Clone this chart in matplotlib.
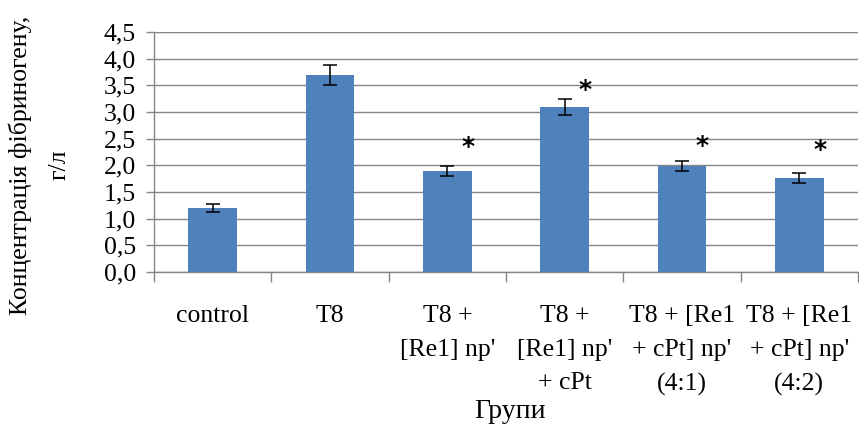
import matplotlib
matplotlib.use("Agg")
import matplotlib.pyplot as plt
import numpy as np
from matplotlib.ticker import FuncFormatter, FixedLocator

plt.rcParams['font.family'] = ['Liberation Serif', 'DejaVu Serif']

categories = ["control", "T8", "T8 +\n[Re1] np'", "T8 +\n[Re1] np'\n+ cPt",
              "T8 + [Re1\n+ cPt] np'\n(4:1)", "T8 + [Re1\n+ cPt] np'\n(4:2)"]
values = [1.2, 3.7, 1.9, 3.1, 1.98, 1.76]
errors = [0.075, 0.19, 0.095, 0.15, 0.095, 0.095]
star_y = [None, None, 2.34, 3.41, 2.36, 2.29]

fig = plt.figure(figsize=(8.59, 4.25), dpi=100)
ax = fig.add_axes([154/859, 1-272/425, (858-154)/859, (272-32)/425])

x = np.arange(len(categories))
ax.bar(x, values, width=0.415, color='#4F81BD', zorder=3,
       yerr=errors, capsize=5, error_kw=dict(ecolor='black', elinewidth=1.1, capthick=1.1, zorder=4))

for xi, sy in zip(x, star_y):
    if sy is not None:
        ax.text(xi + 0.175, sy, '*', ha='center', va='center', fontsize=18,
                fontweight='bold', family=['DejaVu Sans'], zorder=5)

ax.set_xlim(-0.5, len(categories) - 0.5)
ax.set_ylim(0, 4.5)
ax.set_yticks(np.arange(0, 4.51, 0.5))
ax.yaxis.set_major_formatter(FuncFormatter(lambda v, p: f"{v:.1f}".replace('.', ',')))
ax.tick_params(axis='y', labelsize=18.5, length=6, color='#868686', width=1, pad=7)

ax.set_xticks(x)
ax.set_xticklabels(categories, fontsize=18.5)
ax.tick_params(axis='x', length=0, pad=24)
ax.xaxis.set_minor_locator(FixedLocator(np.arange(-0.5, len(categories) - 0.4, 1.0)))
ax.tick_params(axis='x', which='minor', length=7, color='#868686', width=1)

ax.grid(axis='y', color='#868686', linewidth=1, zorder=0)
ax.axhline(4.5, color='black', linewidth=1.5, zorder=1)
for s in ['top', 'right']:
    ax.spines[s].set_visible(False)
for s in ['left', 'bottom']:
    ax.spines[s].set_color('#868686')
    ax.spines[s].set_linewidth(1)

fig.canvas.draw()
for lbl in ax.get_xticklabels():
    lbl.set_linespacing(1.68)

fig.text(510/859, 1-412/425, 'Групи', ha='center', va='center', fontsize=20)
fig.text(20/859, 1-165/425, 'Концентрація фібриногену,', rotation=90,
         ha='center', va='center', fontsize=18.5)
fig.text(60/859, 1-165/425, 'г/л', rotation=90, ha='center', va='center', fontsize=18.5)

fig.savefig('out.png', dpi=100)
